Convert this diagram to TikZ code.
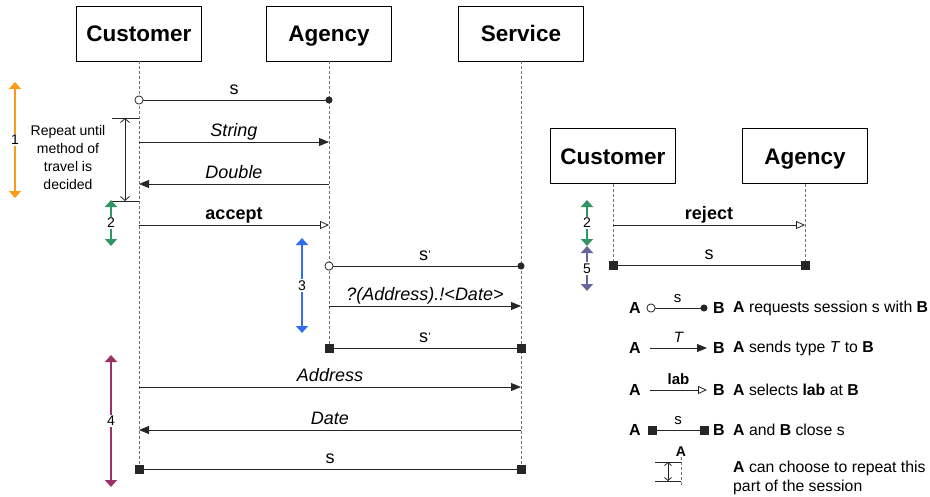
\documentclass[tikz,border=0pt]{standalone}
\usepackage{fontspec}
\setmainfont{Liberation Sans}
\usetikzlibrary{arrows.meta}

\definecolor{phOrange}{RGB}{250, 155, 25}
\definecolor{phGreen}{RGB}{50, 150, 100}
\definecolor{phBlue}{RGB}{50, 110, 245}
\definecolor{phWine}{RGB}{153, 51, 102}
\definecolor{phSlate}{RGB}{102, 102, 153}

\tikzset{
  actor/.style = {draw, line width = 0.9pt, minimum width = 125pt, minimum height = 55pt,
                  text height = 16pt, text depth = 0pt,
                  font = \fontsize{22.5}{24}\selectfont\bfseries},
  lifeline/.style = {draw = black!55, line width = 0.8pt, dash pattern = on 3pt off 2pt},
  msg/.style = {draw = black!85, line width = 0.8pt},
  msglbl/.style = {midway, anchor = base, yshift = 6pt, inner sep = 0pt, font = \fontsize{18}{20}\selectfont},
  req/.style = {{Circle[open, fill = white, length = 9pt]}-{Circle[length = 7pt]},
                shorten <= -4.5pt, shorten >= -3.5pt},
  send/.style = {-{Triangle[length = 10pt, width = 8pt]}},
  sel/.style = {-{Triangle[open, fill = white, length = 9pt, width = 8pt]}},
  close/.style = {{Square[length = 9pt]}-{Square[length = 9pt]}, shorten <= -4.5pt, shorten >= -4.5pt},
  phase/.style = {line width = 2.2pt, {Triangle[length = 7pt, width = 12pt]}-{Triangle[length = 7pt, width = 12pt]}},
  phaselbl/.style = {midway, fill = white, text = black, inner sep = 1.5pt, font = \fontsize{14}{16}\selectfont},
  legtxt/.style = {anchor = west, inner sep = 0pt, font = \fontsize{15.8}{19}\selectfont},
  legend/.style = {inner sep = 0pt, font = \fontsize{16}{18}\selectfont\bfseries}
}

% Strich am s
\newcommand{\sprime}{s\kern0.5pt\raisebox{1.5pt}{\fontsize{11}{11}\selectfont\textquotesingle}}
% Nachricht: von, nach, y, Spitze, Text
\newcommand{\seqmsg}[5]{\draw[msg, #4] (#1 |- 0,#3) -- node[msglbl] {#5} (#2 |- 0,#3);}
% Phase: Name, x, y oben, y unten, Farbe, Nummer
\newcommand{\phase}[6]{\draw[phase, #5] (#2, #3) -- node[phaselbl] (#1) {#6} (#2, #4);}

\begin{document}
\begin{tikzpicture}[x = 1pt, y = -1pt]
  % Bounding box
  \useasboundingbox (0, 0) rectangle (930, 496);

  % Teilnehmer links
  \node[actor] (cu) at (139, 33.5) {Customer};
  \node[actor] (ag) at (329, 33.5) {Agency};
  \node[actor] (sv) at (521, 33.5) {Service};
  % Teilnehmer rechts
  \node[actor] (cuR) at (613, 156) {Customer};
  \node[actor] (agR) at (805, 156) {Agency};

  % Lebenslinien
  \draw[lifeline] (cu.south) -- (cu |- 0,469);
  \draw[lifeline] (ag.south) -- (ag |- 0,348);
  \draw[lifeline] (sv.south) -- (sv |- 0,469);
  \draw[lifeline] (cuR.south) -- (cuR |- 0,265);
  \draw[lifeline] (agR.south) -- (agR |- 0,265);

  % Customer <-> Agency
  \seqmsg{cu}{ag}{100}{req}{s}
  \seqmsg{cu}{ag}{142}{send}{\itshape String}
  \seqmsg{ag}{cu}{184}{send}{\itshape Double}
  \seqmsg{cu}{ag}{225}{sel}{\bfseries accept}
  % Agency <-> Service
  \seqmsg{ag}{sv}{266}{req}{\sprime}
  \seqmsg{ag}{sv}{306}{send}{\itshape ?(Address).!<Date>}
  \seqmsg{ag}{sv}{348}{close}{\sprime}
  % Customer <-> Service
  \seqmsg{cu}{sv}{387}{send}{\itshape Address}
  \seqmsg{sv}{cu}{430}{send}{\itshape Date}
  \seqmsg{cu}{sv}{469}{close}{s}
  % rechts: reject
  \seqmsg{cuR}{agR}{225}{sel}{\bfseries reject}
  \seqmsg{cuR}{agR}{265}{close}{s}

  % Wiederholung
  \draw[msg] (112, 118) -- (cu |- 0,118);
  \draw[msg] (112, 201) -- (cu |- 0,201);
  \draw[msg, {Straight Barb[length = 4pt, width = 9pt]}-{Straight Barb[length = 4pt, width = 9pt]}] (125, 118) -- (125, 201);
  \node[align = center, inner sep = 0pt, font = \fontsize{14}{18}\selectfont] (rep) at (68, 157)
    {Repeat until\\method of\\travel is\\decided};

  % Phasen
  \phase{p1}{15}{82}{198}{phOrange}{1}
  \phase{p2}{111}{200}{246}{phGreen}{2}
  \phase{p3}{302}{238}{333}{phBlue}{3}
  \phase{p4}{111}{355}{487}{phWine}{4}
  \phase{p2R}{587}{200}{246}{phGreen}{2}
  \phase{p5}{587}{246}{291}{phSlate}{5}

  % Legende
  \node[legend] (la1) at (635, 308) {A};
  \node[legend] (lb1) at (719, 308) {B};
  \draw[msg, req] (651, 308) -- node[msglbl, font = \fontsize{15}{18}\selectfont] {s} (704, 308);
  \node[legtxt] (lt1) at (733, 308) {\textbf{A} requests session s with \textbf{B}};

  \node[legend] (la2) at (635, 348) {A};
  \node[legend] (lb2) at (719, 348) {B};
  \draw[msg, send] (650, 348) -- node[msglbl, font = \fontsize{15}{18}\selectfont\itshape] {T} (707, 348);
  \node[legtxt] (lt2) at (733, 348) {\textbf{A} sends type \textit{T} to \textbf{B}};

  \node[legend] (la3) at (635, 390) {A};
  \node[legend] (lb3) at (719, 390) {B};
  \draw[msg, sel] (650, 390) -- node[msglbl, font = \fontsize{15}{18}\selectfont\bfseries] {lab} (707, 390);
  \node[legtxt] (lt3) at (733, 390) {\textbf{A} selects \textbf{lab} at \textbf{B}};

  \node[legend] (la4) at (635, 430) {A};
  \node[legend] (lb4) at (719, 430) {B};
  \draw[msg, close] (652, 430) -- node[msglbl, font = \fontsize{15}{18}\selectfont] {s} (704, 430);
  \node[legtxt] (lt4) at (733, 430) {\textbf{A} and \textbf{B} close s};

  \node[legend, font = \fontsize{14}{16}\selectfont\bfseries] (la5) at (681, 452) {A};
  \draw[lifeline, line width = 0.6pt] (la5.south) -- (681, 486);
  \draw[msg] (655, 462) -- (681, 462);
  \draw[msg] (655, 481) -- (681, 481);
  \draw[msg, {Straight Barb[length = 3pt, width = 7pt]}-{Straight Barb[length = 3pt, width = 7pt]}] (668, 462) -- (668, 481);
  \node[legtxt, align = left, font = \fontsize{15.8}{19}\selectfont] (lt5) at (733, 478)
    {\textbf{A} can choose to repeat this\\part of the session};
\end{tikzpicture}
\end{document}
